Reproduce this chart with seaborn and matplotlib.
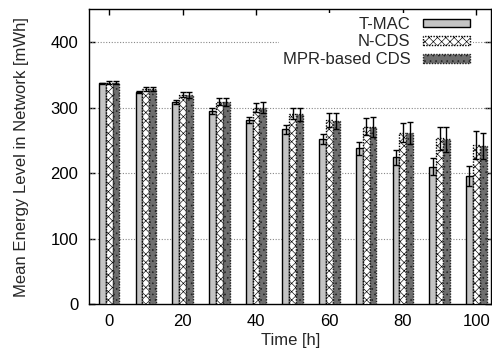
import numpy as np
import pandas as pd
import matplotlib
matplotlib.use("Agg")
import matplotlib.pyplot as plt
import seaborn as sns
from matplotlib.patches import Patch

times = [0, 10, 20, 30, 40, 50, 60, 70, 80, 90, 100]
methods = ["T-MAC", "N-CDS", "MPR-based CDS"]
tmac = [337, 324, 309, 295, 281, 267, 252, 238, 224, 210, 196]
ncds = [338, 329, 320, 309, 300, 291, 281, 271, 262, 253, 243]
mpr = [338, 328, 319, 308, 300, 290, 280, 271, 261, 252, 242]
tmac_err = [1, 2, 3, 4, 5, 7, 8, 10, 11, 13, 15]
ncds_err = [2, 3, 4, 5, 7, 9, 11, 13, 15, 18, 21]
mpr_err = [2, 3, 5, 6, 8, 10, 12, 15, 17, 19, 20]

values = [tmac, ncds, mpr]
errors = [tmac_err, ncds_err, mpr_err]

rows = []
for m, vals, errs in zip(methods, values, errors):
    for t, v, e in zip(times, vals, errs):
        rows.append({"time": t, "energy": v, "err": e, "method": m})
df = pd.DataFrame(rows)

sns.set_style("ticks")
plt.rcParams["font.family"] = ["Liberation Sans", "DejaVu Sans"]
plt.rcParams["hatch.linewidth"] = 0.45

FS = 12

fig = plt.figure(figsize=(4.92, 3.6), dpi=100)
ax = fig.add_axes([0.1815, 0.1547, 0.998 - 0.1815, 0.974 - 0.1547])

sns.barplot(data=df, x="time", y="energy", hue="method", hue_order=methods,
            native_scale=True, width=0.56, errorbar=None, ax=ax, legend=False,
            zorder=3)

styles = [
    dict(facecolor="#c4c4c4", edgecolor="black", hatch=None, linestyle="-", lw=1.0),
    dict(facecolor="white", edgecolor="black", hatch="xxxx", linestyle=(0, (1, 1)), lw=1.0),
    dict(facecolor="#6e6e6e", edgecolor="#222222", hatch="...", linestyle=(0, (1, 1)), lw=1.0),
]

n = len(times)
patches = ax.patches
for i, m in enumerate(methods):
    st = styles[i]
    xs, ys = [], []
    for j in range(n):
        p = patches[i * n + j]
        p.set_facecolor(st["facecolor"])
        p.set_edgecolor(st["edgecolor"])
        p.set_linewidth(st["lw"])
        p.set_linestyle(st["linestyle"])
        if st["hatch"]:
            p.set_hatch(st["hatch"])
        xs.append(p.get_x() + p.get_width() / 2)
        ys.append(p.get_height())
    ax.errorbar(xs, ys, yerr=errors[i], fmt="none", ecolor="black",
                elinewidth=1.0, capsize=2.0, capthick=1.0, zorder=5)

ax.set_xlim(-5.4, 104)
ax.set_ylim(0, 450)
ax.set_xticks([0, 20, 40, 60, 80, 100])
ax.set_xticklabels(["0", "20", "40", "60", "80", "100"])
ax.set_yticks([0, 100, 200, 300, 400])
ax.set_yticklabels(["0", "100", "200", "300", "400"])
ax.tick_params(direction="in", top=True, right=True, length=4, width=1,
               labelsize=FS, colors="black")
ax.tick_params(axis="x", pad=7)
ax.tick_params(axis="y", pad=8)

for y in [100, 200, 300, 400]:
    ax.axhline(y, color="#888888", linestyle=(0, (1, 1.5)), linewidth=0.8, zorder=1)

for s in ax.spines.values():
    s.set_visible(True)
    s.set_linewidth(1.0)
    s.set_color("black")

ax.set_xlabel("Time [h]", fontsize=FS, labelpad=3)
ax.set_ylabel("Mean Energy Level in Network [mWh]", fontsize=FS, labelpad=15)

handles = []
for i, m in enumerate(methods):
    st = styles[i]
    handles.append(Patch(facecolor=st["facecolor"], edgecolor=st["edgecolor"],
                         hatch=st["hatch"], linestyle=st["linestyle"],
                         linewidth=st["lw"], label=m))
leg = ax.legend(handles=handles, loc="upper right", bbox_to_anchor=(0.956, 0.986),
                markerfirst=False, frameon=True, fontsize=FS,
                handlelength=2.8, handleheight=0.42, labelspacing=0.16,
                borderaxespad=0.0, borderpad=0.2, handletextpad=0.78,
                fancybox=False)
leg.get_frame().set_edgecolor("none")
leg.get_frame().set_facecolor("white")
leg.get_frame().set_alpha(1)
leg.set_zorder(10)

fig.savefig("out.png", dpi=100)
